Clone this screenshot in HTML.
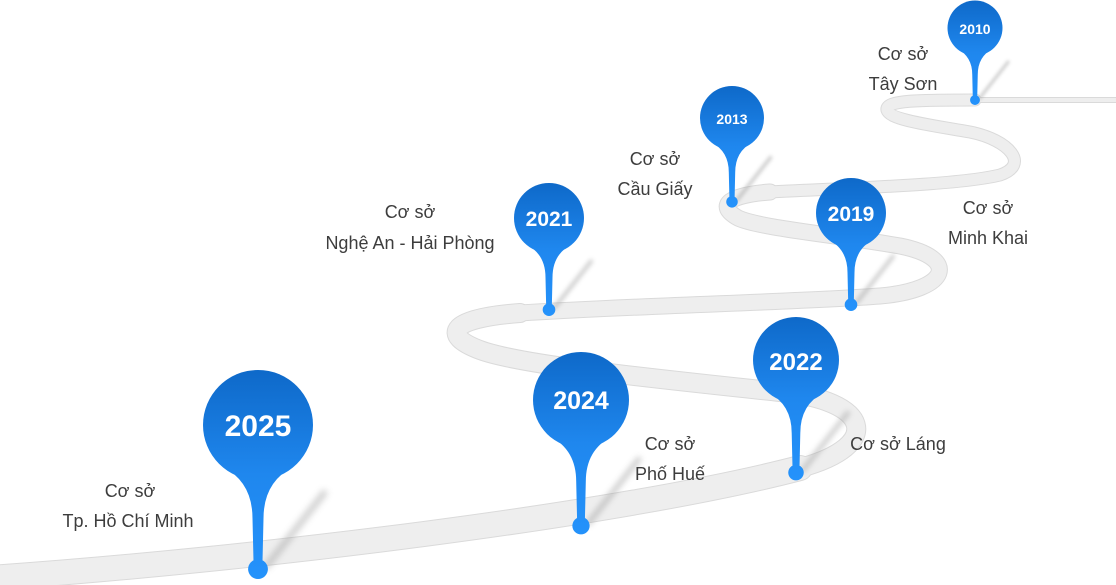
<!DOCTYPE html>
<html><head><meta charset="utf-8"><style>
html,body{margin:0;padding:0;background:#fff;}
svg{display:block;}
.lbl{font-family:"Liberation Sans","Noto Sans CJK SC",sans-serif;font-size:18px;fill:#3d3d3d;text-anchor:middle;}
.yr{font-family:"Liberation Sans",sans-serif;font-weight:bold;fill:#fff;text-anchor:middle;}
</style></head><body>
<svg width="1116" height="585" viewBox="0 0 1116 585" xmlns="http://www.w3.org/2000/svg">
<defs>
<linearGradient id="g" gradientUnits="userSpaceOnUse" x1="0" y1="-50" x2="0" y2="140">
<stop offset="0" stop-color="#0e69c9"/><stop offset="0.5" stop-color="#1f87ee"/><stop offset="1" stop-color="#2492fb"/>
</linearGradient>
<filter id="bl" x="-50%" y="-50%" width="200%" height="200%"><feGaussianBlur stdDeviation="3"/></filter>
<g id="pin">
<path d="M8,128 L60,62" stroke="#999" stroke-width="6" opacity="0.45" filter="url(#bl)" stroke-linecap="round"/>
<g fill="url(#g)">
<circle cx="0" cy="0" r="50"/>
<path d="M-32,38 Q-5,52 -5,85 L-4,128 L4,128 L5,85 Q5,52 32,38 Z"/>
<circle cx="0" cy="131" r="9"/>
</g>
</g>
</defs>
<g fill="none" stroke-linecap="round" stroke-linejoin="round">
<g stroke="#dadada">
<path d="M-10,578 C250,560 620,515 800,468" stroke-width="26"/>
<path d="M800,468 C885,445 870,400 780,392 C650,378 520,365 480,350 C440,335 450,318 520,313" stroke-width="20"/>
<path d="M520,313 C650,305 800,302 880,296 C950,290 960,258 900,246 C830,234 760,228 738,218 C715,205 730,195 770,192" stroke-width="17"/>
<path d="M770,192 C850,188 960,185 1000,175 C1030,165 1010,140 970,132 C930,125 890,120 887,110 C885,100 920,100 975,100" stroke-width="13"/>
<path d="M975,100 L1120,100" stroke-width="6"/>
</g>
<g stroke="#eeeeee">
<path d="M-10,578 C250,560 620,515 800,468" stroke-width="24"/>
<path d="M800,468 C885,445 870,400 780,392 C650,378 520,365 480,350 C440,335 450,318 520,313" stroke-width="18"/>
<path d="M520,313 C650,305 800,302 880,296 C950,290 960,258 900,246 C830,234 760,228 738,218 C715,205 730,195 770,192" stroke-width="15"/>
<path d="M770,192 C850,188 960,185 1000,175 C1030,165 1010,140 970,132 C930,125 890,120 887,110 C885,100 920,100 975,100" stroke-width="11"/>
<path d="M975,100 L1120,100" stroke-width="4"/>
</g>
</g>
<use href="#pin" transform="translate(258,425) scale(1.1)"/>
<use href="#pin" transform="translate(581,400) scale(0.96)"/>
<use href="#pin" transform="translate(796,360) scale(0.86)"/>
<use href="#pin" transform="translate(549,218) scale(0.7)"/>
<use href="#pin" transform="translate(851,213) scale(0.7)"/>
<use href="#pin" transform="translate(732,118) scale(0.64)"/>
<use href="#pin" transform="translate(975,28) scale(0.55)"/>
<text class="yr" x="258" y="436" font-size="30">2025</text>
<text class="yr" x="581" y="409" font-size="25">2024</text>
<text class="yr" x="796" y="370" font-size="24">2022</text>
<text class="yr" x="549" y="226" font-size="21">2021</text>
<text class="yr" x="851" y="221" font-size="21">2019</text>
<text class="yr" x="732" y="124" font-size="14">2013</text>
<text class="yr" x="975" y="34" font-size="14">2010</text>
<text class="lbl" x="130" y="497">Cơ sở</text>
<text class="lbl" x="128" y="527">Tp. Hồ Chí Minh</text>
<text class="lbl" x="670" y="450">Cơ sở</text>
<text class="lbl" x="670" y="480">Phố Huế</text>
<text class="lbl" x="898" y="450">Cơ sở Láng</text>
<text class="lbl" x="410" y="218">Cơ sở</text>
<text class="lbl" x="410" y="249">Nghệ An - Hải Phòng</text>
<text class="lbl" x="655" y="165">Cơ sở</text>
<text class="lbl" x="655" y="195">Cầu Giấy</text>
<text class="lbl" x="988" y="214">Cơ sở</text>
<text class="lbl" x="988" y="244">Minh Khai</text>
<text class="lbl" x="903" y="60">Cơ sở</text>
<text class="lbl" x="903" y="90">Tây Sơn</text>
</svg>
</body></html>
